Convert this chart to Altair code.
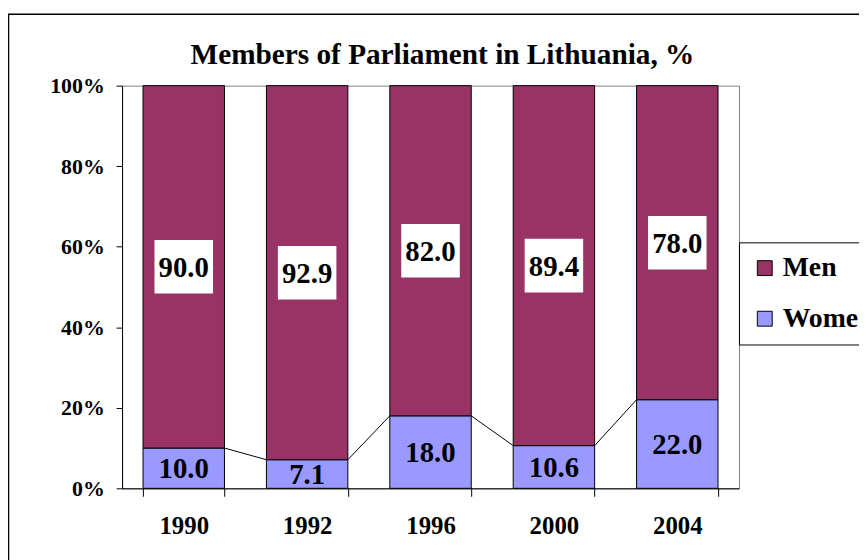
import altair as alt
import pandas as pd

years = ["1990", "1992", "1996", "2000", "2004"]
women = [10.0, 7.1, 18.0, 10.6, 22.0]
men = [90.0, 92.9, 82.0, 89.4, 78.0]
series = ["Men", "Women"]
colors = ["#993366", "#9999FF"]
y_ticks = [0, 20, 40, 60, 80, 100]
title_text = ["Members of Parliament in Lithuania, %"]

rows = []
for yr, w, m in zip(years, women, men):
    rows.append(dict(year=yr, series="Women", value=w, start=0.0, end=w, mid=w / 2))
    rows.append(dict(year=yr, series="Men", value=m, start=w, end=w + m, mid=w + m / 2))
df = pd.DataFrame(rows)

lines = pd.DataFrame(dict(year=years[:-1], nxt=years[1:], w=women[:-1], wn=women[1:]))

FONT = "Liberation Serif"
W, H = 622, 406

xscale = alt.Scale(domain=years, paddingInner=0.34, paddingOuter=0.17)
yscale = alt.Scale(domain=[0, 100], nice=False)

border = alt.Chart(pd.DataFrame({"a": [0]})).mark_rect(
    fillOpacity=0, stroke="black", strokeWidth=1.5
).encode(
    x=alt.value(-114.5), y=alt.value(-72), x2=alt.value(1500), y2=alt.value(1500)
)

title = alt.Chart(pd.DataFrame({"t": title_text})).mark_text(
    font=FONT, fontSize=29.5, fontWeight="bold", color="black", align="center",
    baseline="alphabetic"
).encode(x=alt.value(323), y=alt.value(-22), text="t:N")

bars = alt.Chart(df).mark_bar(stroke="black", strokeWidth=1).encode(
    x=alt.X("year:O", scale=xscale, title=None,
            axis=alt.Axis(labelAngle=0, tickBand="extent", tickSize=8, labelPadding=18,
                          labelFont=FONT, labelFontSize=25, labelFontWeight="bold",
                          labelColor="black", domainColor="black", tickColor="black",
                          grid=False)),
    y=alt.Y("start:Q", scale=yscale, title=None,
            axis=alt.Axis(values=y_ticks, labelExpr="datum.value + '%'", tickSize=6,
                          labelPadding=12, labelFont=FONT, labelFontSize=22,
                          labelFontWeight="bold", labelColor="black",
                          domainColor="black", tickColor="black", grid=False)),
    y2="end:Q",
    color=alt.Color("series:N", scale=alt.Scale(domain=series, range=colors),
                    legend=alt.Legend(title=None, orient="none", legendX=622, legendY=158,
                                      strokeColor="black", fillColor="white", padding=12,
                                      symbolType="square", symbolSize=225,
                                      symbolStrokeColor="black", symbolStrokeWidth=1,
                                      labelFont=FONT, labelFontSize=28,
                                      labelFontWeight="bold", labelColor="black",
                                      rowPadding=23, labelOffset=4)),
)

series_lines = alt.Chart(lines).mark_rule(color="black", strokeWidth=1).encode(
    x=alt.X("year:O", scale=xscale, bandPosition=1),
    x2=alt.X2("nxt", bandPosition=0),
    y=alt.Y("w:Q", scale=yscale),
    y2="wn:Q",
)

men_df = alt.Chart(df).transform_filter(alt.datum.series == "Men")
boxes = men_df.mark_point(
    shape="M-1,-0.915L1,-0.915L1,0.915L-1,0.915Z", filled=True, color="white",
    opacity=1, size=3481
).encode(x=alt.X("year:O", scale=xscale), y=alt.Y("mid:Q", scale=yscale))

labels = alt.Chart(df).mark_text(
    font=FONT, fontSize=29, fontWeight="bold", color="black", baseline="middle", dy=1
).encode(
    x=alt.X("year:O", scale=xscale),
    y=alt.Y("mid:Q", scale=yscale),
    text=alt.Text("value:Q", format=".1f"),
)

chart = alt.layer(border, title, bars, series_lines, boxes, labels).properties(
    width=W, height=H,
    autosize=alt.AutoSizeParams(type="none"),
    padding={"left": 115, "top": 76, "right": 121, "bottom": 70},
).configure_view(stroke="#808080", strokeWidth=1)

chart.save("out.html", embed_options={"renderer": "svg", "actions": False})
